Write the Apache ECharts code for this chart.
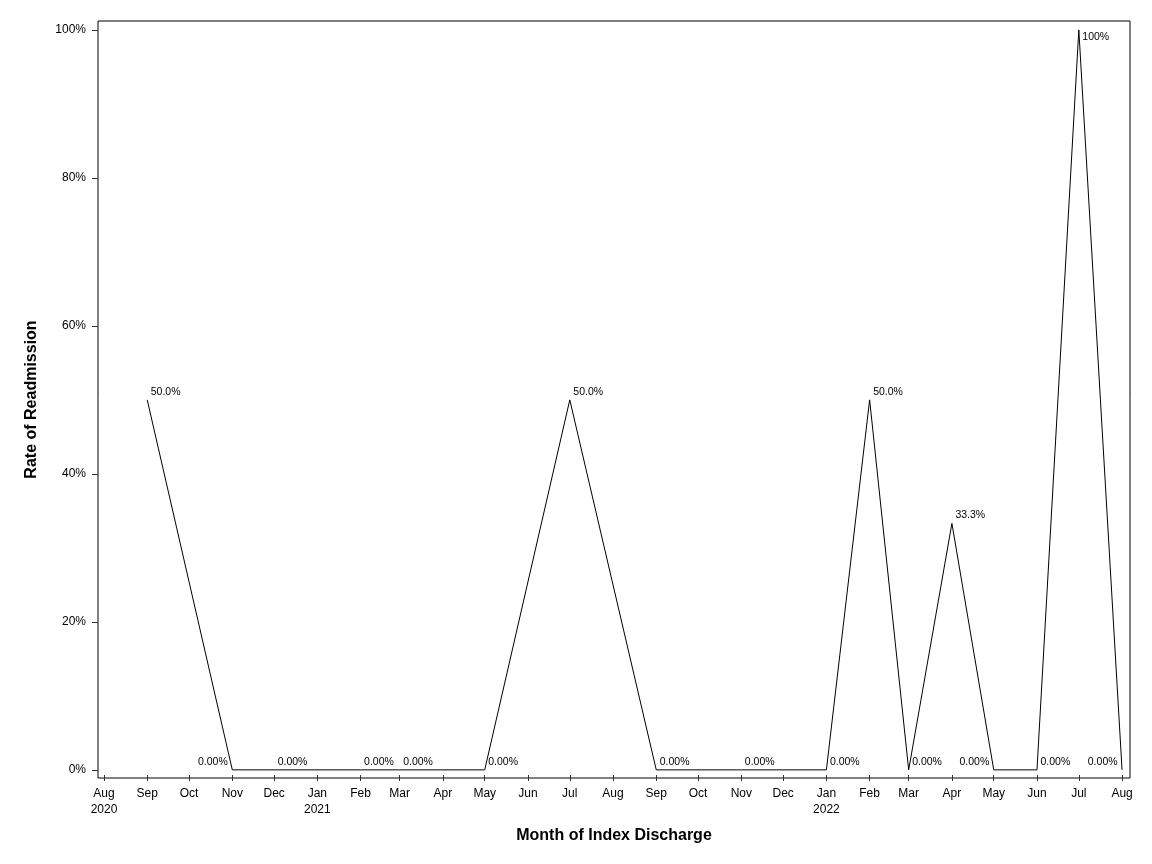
<!DOCTYPE html>
<html>
<head>
<meta charset="utf-8">
<script src="https://cdn.jsdelivr.net/npm/echarts@6/dist/echarts.min.js"></script>
<style>
  html, body { margin: 0; padding: 0; background: #fff; }
  #chart { width: 1152px; height: 864px; }
</style>
</head>
<body>
<div id="chart"></div>
<script>
// months with a readmission rate (first of month)
const months = ['2020-09', '2020-11', '2020-12', '2021-02', '2021-03', '2021-05',
  '2021-07', '2021-09', '2021-11', '2022-01', '2022-02', '2022-03', '2022-04',
  '2022-05', '2022-06', '2022-07', '2022-08'];
const rates = [50, 0, 0, 0, 0, 0, 50, 0, 0, 0, 50, 0, 33.3, 0, 0, 100, 0];
const yTicks = [0, 20, 40, 60, 80, 100];
const monthNames = ['Jan', 'Feb', 'Mar', 'Apr', 'May', 'Jun', 'Jul', 'Aug', 'Sep', 'Oct', 'Nov', 'Dec'];

// labels that SAS pushed to the left side of the point
const leftLabelMonths = ['2020-11', '2022-05', '2022-08'];

function toTime(m) {
  const p = m.split('-');
  return Date.UTC(+p[0], +p[1] - 1, 1);
}

const DAY = 86400000;
const axisStart = Date.UTC(2020, 7, 1);
const axisEnd = Date.UTC(2022, 7, 1);
const xTicks = [];
for (let y = 2020, mo = 7; Date.UTC(y, mo, 1) <= axisEnd; mo++) {
  if (mo > 11) { mo = 0; y++; }
  xTicks.push(Date.UTC(y, mo, 1));
}
const xMin = axisStart - 4.3 * DAY;
const xMax = axisEnd + 5.7 * DAY;

function fmtRate(v) {
  if (v === 0) return '0.00%';
  if (v >= 100) return v.toFixed(0) + '%';
  return v.toFixed(1) + '%';
}

const seriesData = months.map(function (m, i) {
  const left = leftLabelMonths.indexOf(m) >= 0;
  const top = rates[i] >= 100;
  return {
    value: [toTime(m), rates[i]],
    label: {
      position: left ? 'left' : 'right',
      distance: left ? 4 : 3,
      offset: [0, top ? 7 : -8]
    }
  };
});

const FONT = '"Liberation Sans", Arial, sans-serif';

var myChart = echarts.init(document.getElementById('chart'));
myChart.setOption({
  animation: false,
  textStyle: { fontFamily: FONT },
  grid: {
    left: 98,
    right: 22,
    top: 21,
    bottom: 86,
    show: true,
    borderColor: '#000',
    borderWidth: 1
  },
  xAxis: [
    {
      type: 'value',
      min: xMin,
      max: xMax,
      name: 'Month of Index Discharge',
      nameLocation: 'middle',
      nameGap: 50,
      nameTextStyle: { fontFamily: FONT, fontSize: 16, fontWeight: 'bold', color: '#000' },
      axisLine: { show: false, onZero: false },
      splitLine: { show: false },
      axisTick: {
        show: true,
        length: 3,
        customValues: xTicks,
        lineStyle: { color: '#333' }
      },
      axisLabel: {
        customValues: xTicks,
        margin: 8,
        fontSize: 12,
        lineHeight: 16,
        color: '#000',
        fontFamily: FONT,
        formatter: function (v) {
          const d = new Date(v);
          const mo = d.getUTCMonth();
          let s = monthNames[mo];
          if (mo === 0 || v === axisStart) s += '\n' + d.getUTCFullYear();
          return s;
        }
      }
    },
    {
      // inner half of the crossing x ticks
      type: 'value',
      position: 'bottom',
      min: xMin,
      max: xMax,
      axisLine: { show: false, onZero: false },
      splitLine: { show: false },
      axisTick: {
        show: true,
        inside: true,
        length: 3,
        customValues: xTicks,
        lineStyle: { color: '#333' }
      },
      axisLabel: { show: false }
    }
  ],
  yAxis: {
    type: 'value',
    min: -1.1,
    max: 101.2,
    name: 'Rate of Readmission',
    nameLocation: 'middle',
    nameGap: 58,
    nameTextStyle: { fontFamily: FONT, fontSize: 16, fontWeight: 'bold', color: '#000' },
    axisLine: { show: false, onZero: false },
    splitLine: { show: false },
    axisTick: {
      show: true,
      length: 6,
      customValues: yTicks,
      lineStyle: { color: '#333' }
    },
    axisLabel: {
      customValues: yTicks,
      margin: 12,
      fontSize: 12,
      color: '#000',
      fontFamily: FONT,
      formatter: function (v) { return v + '%'; }
    }
  },
  series: [
    {
      name: 'Rate',
      type: 'line',
      data: seriesData,
      symbol: 'circle',
      symbolSize: 1,
      showSymbol: true,
      itemStyle: { color: 'transparent', borderWidth: 0 },
      lineStyle: { color: '#000', width: 1 },
      label: {
        show: true,
        fontSize: 10.5,
        color: '#000',
        fontFamily: FONT,
        formatter: function (p) { return fmtRate(p.value[1]); }
      }
    }
  ]
});
</script>
</body>
</html>
